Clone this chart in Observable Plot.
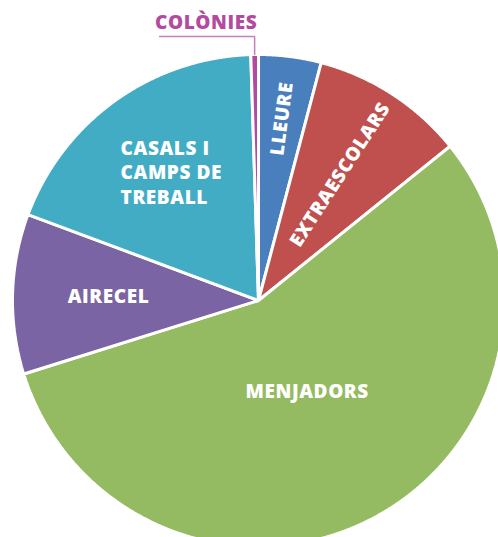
<!DOCTYPE html>
<html><head><meta charset="utf-8">
<script src="https://cdn.jsdelivr.net/npm/d3@7"></script>
<script src="https://cdn.jsdelivr.net/npm/@observablehq/plot@0.6"></script>
<style>
body{margin:0;overflow:hidden;background:#fff}
#chart svg{display:block}
#chart svg text{letter-spacing:0.6px}
</style></head><body><div id="chart"></div>
<script>
// ---- data ----
const categories = ["LLEURE", "EXTRAESCOLARS", "MENJADORS", "AIRECEL", "CASALS I\nCAMPS DE\nTREBALL", "COLÒNIES"];
const values = [4.1, 10.1, 55.9, 10.5, 18.8, 0.5];
const colors = ["#4a7fbd", "#c0504d", "#94bb62", "#7b64a3", "#43acc5", "#b24b9f"];

// ---- layout ----
const W = 498, H = 537, CX = 258, CY = 300, R = 246;
const labelRadius = [0.745, 0.61, 0.42, 0.61, 0.62];
const radialLabel = [true, true, false, false, false];

const arcs = d3.pie().sort(null).value(d => d)(values);
const pts = [];
arcs.forEach((a, i) => {
  const n = Math.max(2, Math.ceil((a.endAngle - a.startAngle) / (Math.PI / 720)));
  pts.push({cat: categories[i], x: 0, y: 0});
  for (let k = 0; k <= n; k++) {
    const t = a.startAngle + (a.endAngle - a.startAngle) * k / n;
    pts.push({cat: categories[i], x: Math.sin(t), y: Math.cos(t)});
  }
});
const mid = a => (a.startAngle + a.endAngle) / 2;
const labels = arcs.slice(0, 5).map((a, i) => {
  const m = mid(a), r = labelRadius[i];
  return {text: categories[i], x: r * Math.sin(m), y: r * Math.cos(m),
          rot: radialLabel[i] ? m * 180 / Math.PI - 90 : 0, start: i === 4};
});
// COLÒNIES leader
const col = arcs[5], cm = mid(col);
const rimX = Math.sin(cm), rimY = Math.cos(cm);
const elbowY = 1.073, leaderLen = 0.386;
const leader = [{x: rimX, y: rimY}, {x: rimX, y: elbowY}, {x: rimX - leaderLen, y: elbowY}];
const colLabel = [{text: categories[5], x: rimX - leaderLen / 2 - 0.004, y: elbowY + 0.057}];

const font = "Open Sans";
const fs = 19;
const fw = 800;
const chart = Plot.plot({
  width: W, height: H, margin: 0,
  x: {domain: [-CX / R, (W - CX) / R], axis: null},
  y: {domain: [(CY - H) / R, CY / R], axis: null},
  color: {domain: categories, range: colors},
  marks: [
    Plot.line(pts, {x: "x", y: "y", z: "cat", fill: "cat", stroke: "white", strokeWidth: 3,
                    strokeLinejoin: "miter", curve: "linear-closed", clip: true}),
    Plot.text(labels.filter(d => !d.start), {x: "x", y: "y", text: "text", rotate: "rot",
      fill: "white", fontSize: fs, fontWeight: fw, fontFamily: font}),
    Plot.text(labels.filter(d => d.start), {x: "x", y: "y", text: "text", textAnchor: "start", dx: -49, dy: -5,
      fill: "white", fontSize: fs, fontWeight: fw, fontFamily: font, lineHeight: 1.29}),
    Plot.line(leader, {x: "x", y: "y", stroke: "#c77fba", strokeWidth: 1.5, strokeLinejoin: "miter"}),
    Plot.text(colLabel, {x: "x", y: "y", text: "text", fill: "#b24b9f", fontSize: fs,
      fontWeight: fw, fontFamily: font})
  ]
});
document.getElementById("chart").appendChild(chart);
</script></body></html>
